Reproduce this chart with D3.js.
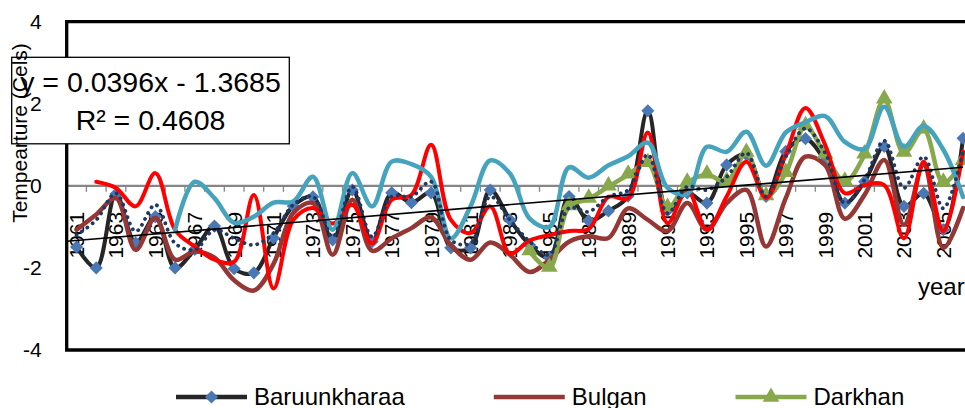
<!DOCTYPE html>
<html>
<head>
<meta charset="utf-8">
<script src="https://cdnjs.cloudflare.com/ajax/libs/d3/7.8.5/d3.min.js"></script>
<style>
body { margin: 0; background: #fff; overflow: hidden; }
svg text { font-family: "Liberation Sans", Arial, sans-serif; fill: #000; }
</style>
</head>
<body>
<svg id="chart" width="965" height="408"></svg>
<script>
// categories and values (temperature anomaly, Cels)
var years = d3.range(1961, 2007);
var yTicks = [-4, -2, 0, 2, 4];
var xLabels = years.filter(function(d) { return d % 2 == 1; });

var baruunkharaa = [-1.49, -2.0, -0.2, -1.39, -0.75, -2.0, -1.55, -0.98, -2.02, -2.12,
  -1.27, -0.49, -0.27, -1.32, -0.1, -1.36, -0.17, -0.41, -0.17, -1.51,
  -1.51, -0.1, -0.83, -1.44, -1.75, -0.26, -0.85, -0.61, -0.25, 1.83,
  -0.6, -0.17, -0.42, 0.51, 0.76, -0.26, 0.84, 1.15, 0.6, -0.42,
  0.1, 0.96, -0.5, -0.18, -1.07, 1.16];
var bulgan = [-1.07, -0.7, -0.3, -1.56, -0.78, -1.8, -1.6, -1.75, -2.3, -2.55,
  -1.9, -0.66, -0.42, -1.68, -0.34, -1.58, -1.28, -1.03, -0.77, -1.45,
  -1.8, -1.38, -1.68, -2.1, -1.8, -1.36, -1.23, -1.27, -0.55, -0.83,
  -1.1, -0.42, -1.07, -0.42, -0.1, -1.48, -0.3, 0.71, 0.5, -0.8,
  -0.22, 0.63, -0.95, 0.51, -1.51, -0.54];
var darkhan = [null, null, null, null, null, null, null, null, null, null,
  null, null, null, null, null, null, null, null, null, null,
  null, null, null, -1.6, -2.0, -0.5, -0.32, -0.02, 0.27, 0.55,
  -0.54, 0.07, 0.27, 0.1, 0.8, -0.26, 0.31, 1.45, 0.76, 0.1,
  0.76, 2.1, 0.8, 1.37, 0.07, 0.6];
var station4 = [null, 0.1, -0.05, -0.5, 0.31, -1.07, -1.48, -1.8, -1.85, -0.22,
  -2.5, -0.83, -0.54, -0.92, -0.46, -1.4, -0.34, -0.22, 1.0, -0.83,
  -1.15, -0.5, -1.65, -1.33, -1.2, -1.1, -1.05, -0.27, -0.3, 1.3,
  -0.91, -0.1, -1.07, -0.26, 0.59, -0.3, 0.76, 1.9, 1.0, -0.18,
  0.02, 0.02, -1.28, 0.59, -1.11, 0.84];
var station5 = [null, null, null, null, null, -1.07, 0.1, -0.3, -0.9, -0.75,
  -0.41, -0.38, 0.22, -1.07, 0.31, -0.5, 0.59, 0.53, 0.22, -1.28,
  -0.5, 0.62, 0.3, -0.8, -1.0, 0.45, 0.2, 0.5, 0.72, 1.05,
  -0.05, -0.2, 0.95, 0.83, 1.32, 0.49, 1.3, 1.55, 1.7, 1.07,
  0.9, 1.93, 0.95, 1.46, 0.88, -0.27];
var station6 = [-1.2, -0.83, -0.18, -1.11, -0.46, -1.4, -1.56, -1.07, -1.28, -1.44,
  -1.15, -0.46, -0.26, -1.24, -0.02, -1.24, -0.26, -0.26, 0.1, -1.32,
  -1.4, -0.26, -0.83, -1.36, -1.68, -0.54, -0.63, -0.26, -0.1, 0.76,
  -0.67, -0.02, -0.1, 0.22, 0.8, -0.26, 0.71, 1.4, 0.8, -0.42,
  0.15, 1.1, -0.05, 0.71, -0.55, 0.84];

// linear trend shown on the chart
var trendSlope = 0.0396;
var trendIntercept = -1.3685;
var trendEq = "y = 0.0396x - 1.3685";
var trendR2 = "R\u00b2 = 0.4608";

var svg = d3.select("#chart");

var x = d3.scaleBand().domain(years).range([66.7, 972.9]);
var y = d3.scaleLinear().domain([-4, 4]).range([350, 21.7]);
var cx = function(i) { return x(years[i]) + x.bandwidth() / 2; };

// zero axis line with ticks at category boundaries
svg.append("line")
    .attr("x1", x.range()[0]).attr("x2", x.range()[1])
    .attr("y1", y(0)).attr("y2", y(0))
    .attr("stroke", "#868686").attr("stroke-width", 2.2);

svg.append("g").selectAll("line")
    .data(years.slice(1))
    .join("line")
    .attr("x1", function(d) { return x(d); })
    .attr("x2", function(d) { return x(d); })
    .attr("y1", y(0)).attr("y2", y(0) + 6)
    .attr("stroke", "#868686").attr("stroke-width", 1.3);

var xAxis = d3.axisBottom(x).tickValues(xLabels).tickSize(0);
svg.append("g")
    .attr("transform", "translate(0," + y(0) + ")")
    .call(xAxis)
    .call(function(g) { g.select(".domain").remove(); })
    .selectAll("text")
    .attr("y", 0)
    .attr("x", -26)
    .attr("dy", "0.35em")
    .attr("transform", "rotate(-90)")
    .style("text-anchor", "end")
    .style("font-size", "21px")
    .style("font-family", "Liberation Sans, Arial, sans-serif");

// series
var line = d3.line()
    .defined(function(d) { return d != null; })
    .x(function(d, i) { return cx(i); })
    .y(function(d) { return y(d); })
    .curve(d3.curveCatmullRom.alpha(0.5));

var series = [
  { values: baruunkharaa, color: "#262626", width: 4, dash: null },
  { values: bulgan, color: "#953735", width: 4.5, dash: null },
  { values: darkhan, color: "#88A84C", width: 4.5, dash: null },
  { values: station4, color: "#FF0000", width: 4, dash: null },
  { values: station5, color: "#45A3BD", width: 4.5, dash: null },
  { values: station6, color: "#1F3864", width: 3.8, dash: "0.1 6.5" }
];

var diamond = d3.symbol().type(d3.symbolDiamond2).size(110);
var triangle = d3.symbol().type(d3.symbolTriangle).size(120);

series.forEach(function(s, k) {
  svg.append("path")
      .attr("d", line(s.values))
      .attr("fill", "none")
      .attr("stroke", s.color)
      .attr("stroke-width", s.width)
      .attr("stroke-linejoin", "round")
      .attr("stroke-linecap", "round")
      .attr("stroke-dasharray", s.dash);

  if (k == 0) {
    svg.append("g").selectAll("path")
        .data(s.values.map(function(v, i) { return [i, v]; }).filter(function(d) { return d[1] != null; }))
        .join("path")
        .attr("d", diamond)
        .attr("transform", function(d) { return "translate(" + cx(d[0]) + "," + y(d[1]) + ")"; })
        .attr("fill", "#4A78B5");
  }
  if (k == 2) {
    svg.append("g").selectAll("path")
        .data(s.values.map(function(v, i) { return [i, v]; }).filter(function(d) { return d[1] != null; }))
        .join("path")
        .attr("d", triangle)
        .attr("transform", function(d) { return "translate(" + cx(d[0]) + "," + (y(d[1]) - 1) + ")"; })
        .attr("fill", "#88A84C");
  }
});

// trend line
var t = d3.scaleLinear().domain([0.5, years.length + 0.5]).range(x.range());
svg.append("path")
    .attr("d", d3.line()
      .x(function(d) { return t(d); })
      .y(function(d) { return y(trendSlope * d + trendIntercept); })([0.5, years.length]))
    .attr("stroke", "#000").attr("stroke-width", 1.6).attr("fill", "none");

// plot area border
svg.append("path")
    .attr("d", "M" + x.range()[1] + "," + y(4) + "H" + x.range()[0] + "V" + y(-4) + "H" + x.range()[1])
    .attr("fill", "none").attr("stroke", "#000").attr("stroke-width", 3.3);

// equation box
svg.append("rect")
    .attr("x", 11.7).attr("y", 57.3).attr("width", 277.6).attr("height", 86.5)
    .attr("fill", "#fff").attr("stroke", "#000").attr("stroke-width", 1.3);
svg.append("text").attr("x", 150.5).attr("y", 92).attr("text-anchor", "middle")
    .style("font-size", "28.5px").text(trendEq);
svg.append("text").attr("x", 150.5).attr("y", 130).attr("text-anchor", "middle")
    .style("font-size", "28.5px").text(trendR2);

// y axis labels (plain hyphen minus, as in the original)
var yAxis = d3.axisLeft(y).tickValues(yTicks).tickSize(0).tickPadding(25)
    .tickFormat(function(d) { return String(d); });
svg.append("g")
    .attr("transform", "translate(" + x.range()[0] + ",0)")
    .call(yAxis)
    .call(function(g) { g.select(".domain").remove(); })
    .selectAll("text")
    .style("font-size", "21px")
    .style("font-family", "Liberation Sans, Arial, sans-serif");

// axis titles
svg.append("text")
    .attr("transform", "translate(27,133) rotate(-90)")
    .attr("text-anchor", "middle")
    .style("font-size", "21px")
    .text("Tempearture (Cels)");
svg.append("text")
    .attr("x", 918).attr("y", 295)
    .style("font-size", "24px")
    .text("year");

// legend (cut by the bottom edge, like the original)
var legendItems = [
  { name: "Baruunkharaa", color: "#262626", marker: "diamond", fill: "#4A78B5" },
  { name: "Bulgan", color: "#953735", marker: null },
  { name: "Darkhan", color: "#88A84C", marker: "triangle", fill: "#88A84C" }
];
var lx = 176;
legendItems.forEach(function(item) {
  var g = svg.append("g");
  g.append("line")
      .attr("x1", lx).attr("x2", lx + 71)
      .attr("y1", 397).attr("y2", 397)
      .attr("stroke", item.color).attr("stroke-width", 4.5);
  if (item.marker) {
    g.append("path")
        .attr("d", item.marker == "diamond" ? diamond() : triangle())
        .attr("transform", "translate(" + (lx + 35.5) + ",397)")
        .attr("fill", item.fill);
  }
  var txt = g.append("text")
      .attr("x", lx + 78).attr("y", 405)
      .style("font-size", "24px")
      .text(item.name);
  lx = lx + 78 + txt.node().getComputedTextLength() + 89;
});
</script>
</body>
</html>
